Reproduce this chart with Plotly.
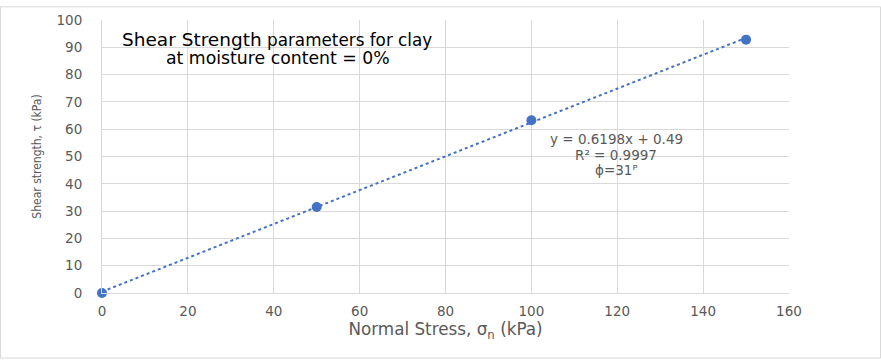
import plotly.graph_objects as go

normal_stress = [0, 50, 100, 150]
shear_strength = [0, 31.5, 63.3, 92.8]
x_ticks = [0, 20, 40, 60, 80, 100, 120, 140, 160]
y_ticks = [0, 10, 20, 30, 40, 50, 60, 70, 80, 90, 100]
# linear trendline, as reported on the chart
trend_slope = 0.6198
trend_intercept = 0.49
r_squared = 0.9997
phi_deg = 31

trend_x = [min(normal_stress), max(normal_stress)]
trend_y = [trend_slope * v + trend_intercept for v in trend_x]

blue = "#4472C4"
gray = "#595959"
grid = "#d9d9d9"
wide = "DejaVu Sans, Verdana, sans-serif"
narrow = "Liberation Sans Narrow, DejaVu Sans Condensed, Arial Narrow, sans-serif"
tick_font = dict(family=wide, size=13.5, color=gray)

fig = go.Figure()
fig.add_trace(go.Scatter(x=trend_x, y=trend_y, mode="lines",
                         line=dict(color=blue, width=2, dash="dot"),
                         hoverinfo="skip", showlegend=False, cliponaxis=False))
fig.add_trace(go.Scatter(x=normal_stress, y=shear_strength, mode="markers",
                         marker=dict(color=blue, size=10), showlegend=False, cliponaxis=False))

L, R, T, B = 102, 92, 14, 68
W, H = 881, 361
pw, ph = W - L - R, H - T - B

fig.update_layout(width=W, height=H, margin=dict(l=L, r=R, t=T, b=B),
                  paper_bgcolor="white", plot_bgcolor="white")
fig.update_xaxes(range=[0, 160], tickvals=x_ticks, showgrid=True, gridcolor=grid, gridwidth=1,
                 zeroline=False, showline=True, linecolor=grid, linewidth=1,
                 ticks="outside", ticklen=6, tickcolor="rgba(0,0,0,0)", tickfont=tick_font,
                 title=dict(text="Normal Stress, σ<sub>n</sub> (kPa)",
                            font=dict(family=wide, size=16.8, color=gray), standoff=2))
fig.update_yaxes(range=[0, 100], tickvals=y_ticks, showgrid=True, gridcolor=grid, gridwidth=1,
                 zeroline=False, showline=True, linecolor=grid, linewidth=1,
                 ticks="outside", ticklen=16, tickcolor="rgba(0,0,0,0)", tickfont=tick_font,
                 title=dict(text="Shear strength, τ (kPa)",
                            font=dict(family=narrow, size=12, color=gray), standoff=12))

def px_x(px):
    return (px - L) / pw

def px_y(py):
    return 1 - (py - T) / ph

fig.add_annotation(xref="paper", yref="paper", x=px_x(277), y=px_y(34), xanchor="center", yanchor="middle",
                   text="<span style='font-size:18.5px'>Shear Strength</span> parameters for clay",
                   showarrow=False, font=dict(family=wide, size=16.8, color="black"))
fig.add_annotation(xref="paper", yref="paper", x=px_x(278), y=px_y(53), xanchor="center", yanchor="middle",
                   text="at moisture content = 0%",
                   showarrow=False, font=dict(family=wide, size=17.3, color="black"))
eq_lines = [
    f"y = {trend_slope}x + {trend_intercept}",
    f"R² = {r_squared}",
    f"ϕ={phi_deg}ᴾ",
]
for i, line in enumerate(eq_lines):
    fig.add_annotation(xref="paper", yref="paper", x=px_x(616), y=px_y(136 + 15.5 * i),
                       xanchor="center", yanchor="middle", text=line, showarrow=False,
                       font=dict(family=wide, size=13.5, color=gray))
# outer border of the chart
fig.add_shape(type="rect", xref="paper", yref="paper",
              x0=px_x(0.5), x1=px_x(880.5), y0=px_y(359.5), y1=px_y(0.5),
              line=dict(color=grid, width=1))
fig.write_html("out.html", config={"displayModeBar": False},
               post_script="document.body.style.margin='0px';document.body.style.overflow='hidden';")
